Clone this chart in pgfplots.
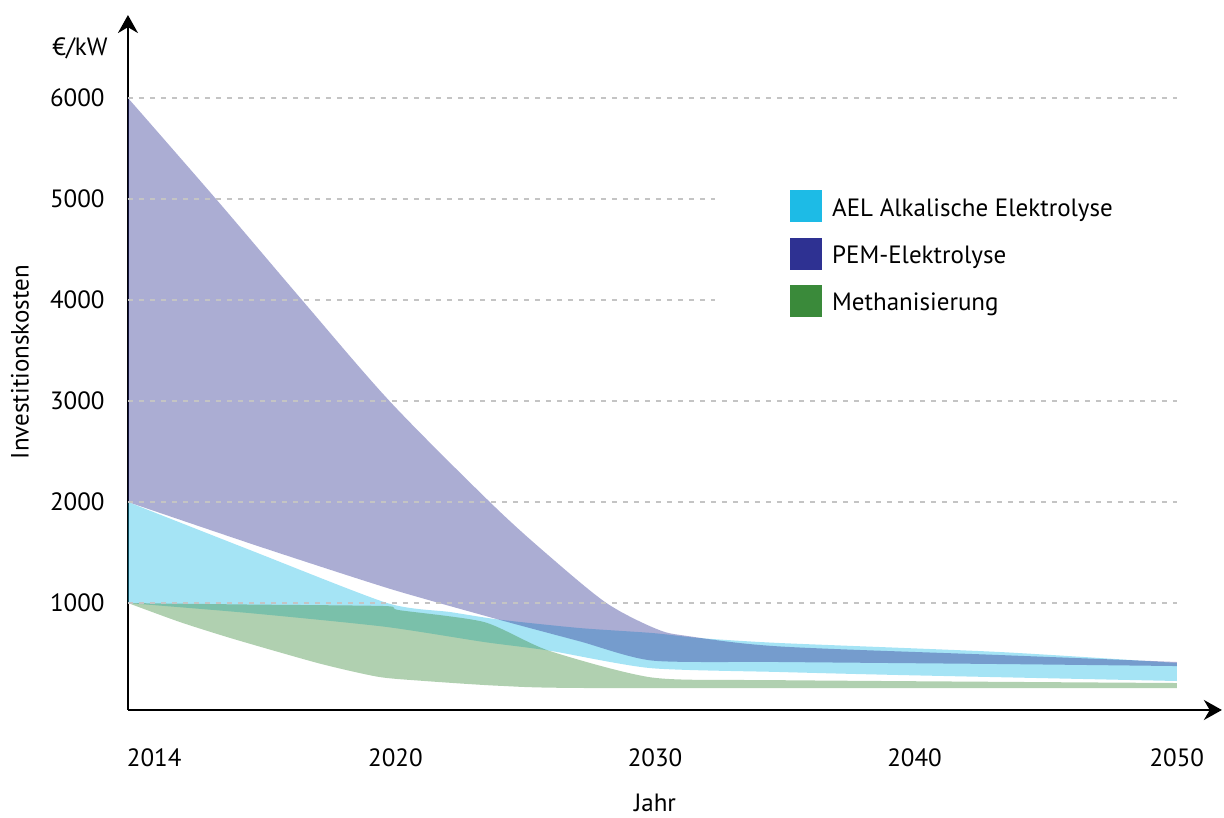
\documentclass[border=0pt]{standalone}
\usepackage{pgfplots}
\pgfplotsset{compat=1.18}
\usepgfplotslibrary{fillbetween}
\usetikzlibrary{arrows.meta}
\usepackage{fontspec}
\setmainfont{PT Sans}
\definecolor{aelc}{HTML}{1DBBE6}
\definecolor{pemc}{HTML}{2E3192}
\definecolor{methc}{HTML}{3A8A3A}
\definecolor{gridc}{HTML}{C4C4C4}
\newcommand{\lblfont}{\fontsize{12.5}{15}\selectfont}
\begin{document}
\begin{tikzpicture}
\begin{axis}[
  scale only axis, width=547pt, height=347.5pt,
  xmin=0, xmax=4.172, ymin=-59, ymax=6821,
  axis lines=left,
  axis line style={line width=1.2pt, -{Stealth[length=9pt,width=10pt]}},
  major tick length=0pt,
  xtick={0.1,1.02,2.01,3,4},
  xticklabels={2014,2020,2030,2040,2050},
  ytick={1000,2000,3000,4000,5000,6000},
  yticklabels={1000,2000,3000,4000,5000,6000},
  tick label style={font=\lblfont, inner sep=0pt},
  xticklabel style={anchor=north, yshift=-19pt},
  yticklabel style={anchor=east, xshift=-11.5pt},
  clip=false,
  legend cell align=left,
  legend style={at={(axis cs:2.524,5089)}, anchor=north west, draw=none, fill=none,
    inner sep=0pt, row sep=7.25pt, column sep=3pt, font=\lblfont},
  legend image code/.code={\fill[#1, draw=none] (0pt,-6.75pt) rectangle (16pt,9.25pt);},
]
% bounding box
\path (axis cs:-0.488,-1119) rectangle (axis cs:4.18,6970);
% grid lines
\draw[gridc, line width=0.6pt, dash pattern=on 2.5pt off 3pt] (axis cs:0,1000) -- (axis cs:4,1000);
\draw[gridc, line width=0.6pt, dash pattern=on 2.5pt off 3pt] (axis cs:0,2000) -- (axis cs:4,2000);
\draw[gridc, line width=0.6pt, dash pattern=on 2.5pt off 3pt] (axis cs:0,3000) -- (axis cs:4,3000);
\draw[gridc, line width=0.6pt, dash pattern=on 2.5pt off 3pt] (axis cs:0,4000) -- (axis cs:2.24,4000);
\draw[gridc, line width=0.6pt, dash pattern=on 2.5pt off 3pt] (axis cs:0,5000) -- (axis cs:2.24,5000);
\draw[gridc, line width=0.6pt, dash pattern=on 2.5pt off 3pt] (axis cs:0,6000) -- (axis cs:4,6000);

% AEL
\addplot[name path=aelU, draw=none, smooth, tension=0.4, forget plot] coordinates {
 (0,2000) (0.465,1525) (0.988,1000) (1.228,911) (1.418,835) (1.724,752) (2.0,703) (2.181,653) (2.486,604) (3.325,515) (4.0,406)};
\addplot[name path=aelL, draw=none, smooth, tension=0.4, forget plot] coordinates {
 (0,1000) (0.465,900) (0.98,765) (1.358,614) (1.606,529) (1.991,356) (2.486,317) (2.944,287) (4.0,228)};
% PEM
\addplot[name path=pemU, draw=none, smooth, tension=0.5, forget plot] coordinates {
 (0,6000) (0.339,4990) (0.667,3990) (1.001,2990) (1.388,1980) (1.6,1480) (1.825,1000) (2.016,743) (2.135,673) (2.486,570) (3.325,485) (4.0,416)};
\addplot[name path=pemL, draw=none, smooth, tension=0.4, forget plot] coordinates {
 (0,2000) (0.5,1560) (1.0,1140) (1.415,835) (1.724,620) (2.0,430) (2.486,416) (3.325,396) (4.0,376)};
% Methanisierung
\addplot[name path=methU, draw=none, smooth, tension=0.4, forget plot] coordinates {
 (0,1000) (0.465,985) (0.98,970) (1.033,930) (1.358,812) (1.603,530) (2.0,262) (2.486,236) (4.0,208)};
\addplot[name path=methL, draw=none, smooth, tension=0.4, forget plot] coordinates {
 (0,1000) (0.2,810) (0.408,640) (0.732,400) (0.953,270) (1.11,232) (1.42,180) (1.8,158) (4.0,158)};

\addplot[fill=aelc, fill opacity=0.4, draw=none, forget plot] fill between[of=aelU and aelL];
\addplot[fill=pemc, fill opacity=0.4, draw=none, forget plot] fill between[of=pemU and pemL];
\addplot[fill=methc, fill opacity=0.4, draw=none, forget plot] fill between[of=methU and methL];

\addlegendimage{fill=aelc, draw=none}
\addlegendentry{AEL Alkalische Elektrolyse}
\addlegendimage{fill=pemc, draw=none}
\addlegendentry{PEM-Elektrolyse}
\addlegendimage{fill=methc, draw=none}
\addlegendentry{Methanisierung}

% labels
\node[anchor=east, inner sep=0pt, font=\lblfont] at (axis cs:-0.0763,6494) {€/kW};
\node[rotate=90, inner sep=0pt, font=\lblfont] at (axis cs:-0.412,3386) {Investitionskosten};
\node[anchor=north, inner sep=0pt, font=\lblfont, yshift=-42pt] at (axis cs:2.01,-59) {Jahr};
\end{axis}
\end{tikzpicture}
\end{document}
